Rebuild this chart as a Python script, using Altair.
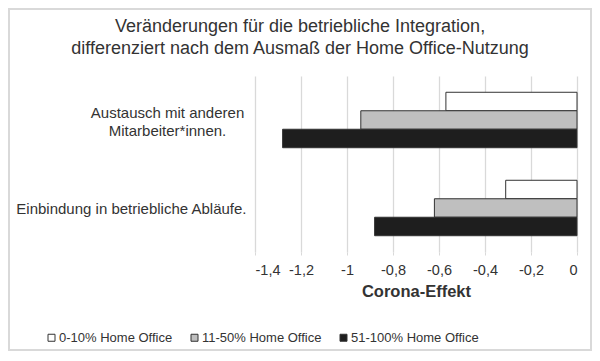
import altair as alt
import pandas as pd

categories = ["Austausch mit anderen Mitarbeiter*innen.", "Einbindung in betriebliche Abläufe."]
series = ["0-10% Home Office", "11-50% Home Office", "51-100% Home Office"]
values_austausch = [-0.57, -0.94, -1.28]
values_einbindung = [-0.31, -0.62, -0.88]
colors = ["#ffffff", "#bfbfbf", "#1e1e1e"]
x_ticks = [-1.4, -1.2, -1.0, -0.8, -0.6, -0.4, -0.2, 0.0]

rows = []
for s, v in zip(series, values_austausch):
    rows.append({"cat": categories[0], "series": s, "value": v})
for s, v in zip(series, values_einbindung):
    rows.append({"cat": categories[1], "series": s, "value": v})
df = pd.DataFrame(rows)

FONT = "Liberation Sans"
W, H = 322, 176
first_test = "datum.value == 'Austausch mit anderen Mitarbeiter*innen.'"

bars = alt.Chart(df).mark_bar(stroke="#333333", strokeWidth=1).encode(
    x=alt.X("value:Q",
            scale=alt.Scale(domain=[-1.4, 0], nice=False, zero=False),
            axis=alt.Axis(values=x_ticks, title="Corona-Effekt",
                          labelExpr="replace(replace(format(datum.value, '.1~f'), '.', ','), '\u2212', '-')",
                          grid=True, gridColor="#d9d9d9", gridWidth=1.3,
                          domain=False, ticks=True, tickSize=3, tickColor="#d9d9d9",
                          labelFont=FONT, labelFontSize=14.5, labelColor="#333333",
                          labelPadding=8,
                          titleFont=FONT, titleFontSize=16.5, titleFontWeight="bold",
                          titleColor="#333333", titlePadding=7)),
    y=alt.Y("cat:N", sort=categories,
            scale=alt.Scale(paddingInner=0.37, paddingOuter=0.185),
            axis=alt.Axis(title=None, ticks=False, domain=False,
                          labelExpr=first_test + " ? ['Austausch mit anderen', 'Mitarbeiter*innen.'] : datum.value",
                          labelFont=FONT, labelFontSize=15, labelColor="#333333",
                          labelAlign={"condition": {"test": first_test, "value": "center"}, "value": "right"},
                          labelPadding={"condition": {"test": first_test, "value": 88}, "value": 9},
                          labelOffset={"condition": {"test": first_test, "value": -7}, "value": 1},
                          labelLimit=300, labelLineHeight=18)),
    yOffset=alt.YOffset("series:N", sort=series,
                        scale=alt.Scale(paddingInner=0, paddingOuter=0)),
    color=alt.Color("series:N", sort=series,
                    scale=alt.Scale(domain=series, range=colors),
                    legend=alt.Legend(title=None, orient="none", direction="horizontal",
                                      legendX=-210, legendY=H + 79,
                                      symbolType="square", symbolSize=49,
                                      symbolStrokeColor="#333333", symbolStrokeWidth=1,
                                      labelFont=FONT, labelFontSize=13,
                                      labelColor="#333333", labelOffset=1,
                                      columnPadding=15)),
)

frame = alt.Chart(df).mark_rect(fill=None, stroke="#d9d9d9", strokeWidth=2).encode(
    x=alt.value(-246), x2=alt.value(W + 14),
    y=alt.value(-67), y2=alt.value(H + 98),
)

chart = alt.layer(frame, bars).properties(
    width=W, height=H,
    title=alt.TitleParams(
        ["Veränderungen für die betriebliche Integration,",
         "differenziert nach dem Ausmaß der Home Office-Nutzung"],
        font=FONT, fontSize=18, fontWeight="normal", color="#333333",
        anchor="middle", dx=-116, offset=-50, lineHeight=22, frame="group"),
    autosize=alt.AutoSizeParams(type="none"),
    padding={"left": 247, "top": 68, "right": 15, "bottom": 100},
).configure_view(stroke=None)

chart.save("out.html", embed_options={"renderer": "svg", "actions": False})
